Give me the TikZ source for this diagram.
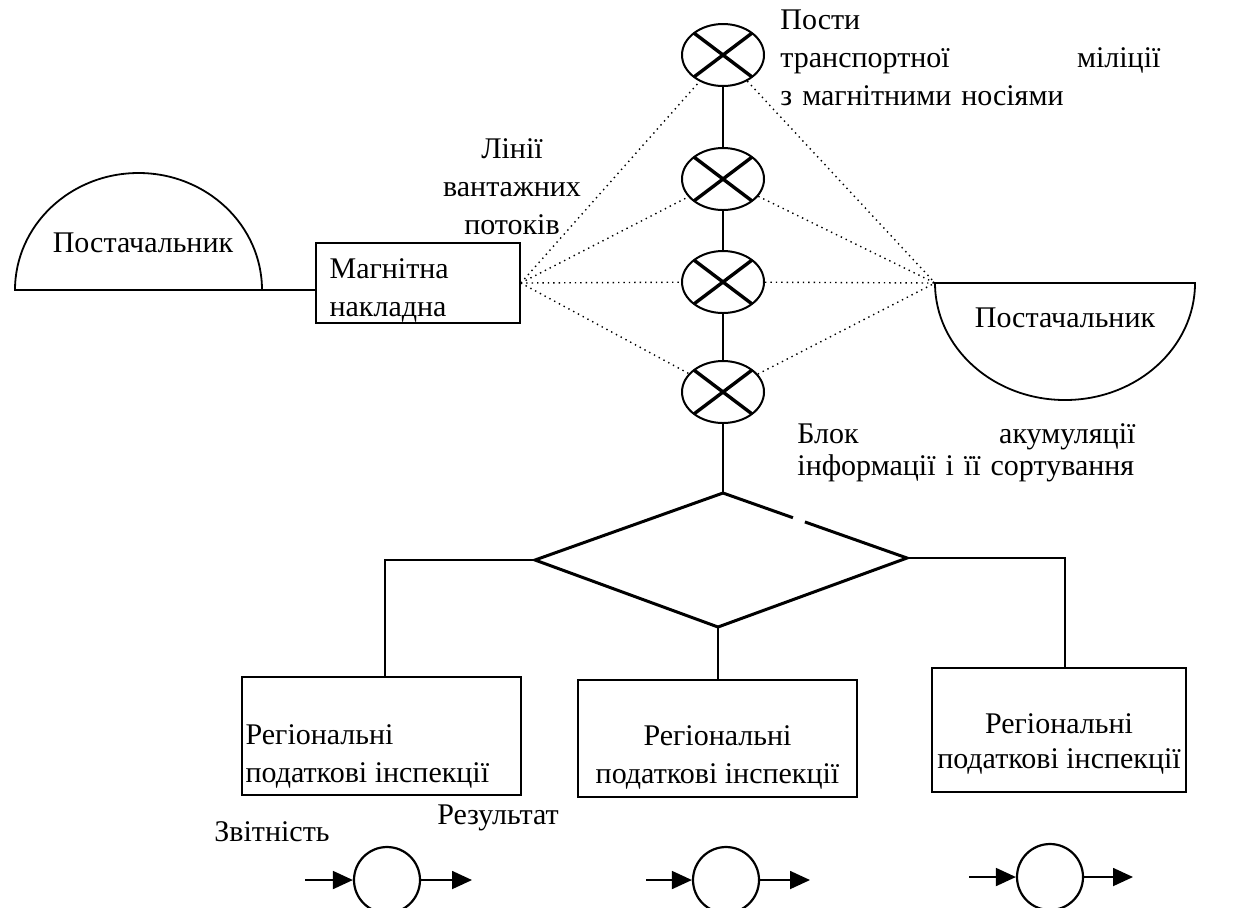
\documentclass[tikz,border=0pt]{standalone}
\usepackage{fontspec}
\setmainfont{Liberation Serif}
\usetikzlibrary{shapes.geometric,arrows.meta,calc}
\begin{document}
\begin{tikzpicture}[x=0.5pt,y=-0.5pt,
  every node/.style={font=\fontsize{15}{19}\selectfont, inner sep=0pt},
  box/.style={draw, line width=0.8pt},
  xell/.style={ellipse, draw, line width=1pt, minimum width=41pt, minimum height=31pt,
    path picture={\draw[line width=1.7pt]
      (path picture bounding box.north west) -- (path picture bounding box.south east)
      (path picture bounding box.north east) -- (path picture bounding box.south west);}},
  dotline/.style={dotted, line width=0.7pt},
  conn/.style={line width=0.9pt},
  smallc/.style={circle, draw, line width=1.1pt, minimum size=33pt},
  arr/.style={line width=0.9pt, -{Triangle[length=10pt,width=9pt]}},
  shapeline/.style={line width=0.9pt}
]
\useasboundingbox (0,0) rectangle (1251,907);
\clip (0,0) rectangle (1251,907);

% left supplier (dome)
\draw[shapeline] (15,290) arc[start angle=180, end angle=360, x radius=123.5, y radius=117] -- cycle;
\coordinate (s1r) at (262,290);
\node (sup1) at (143,243) {Постачальник};

% magnetic waybill
\node[box, minimum width=102pt, minimum height=40pt] (mag) at (418,283) {};
\node[anchor=north west, align=left] (magt) at ($(mag.north west)+(14,16)$) {Магнітна\\накладна};
\draw[conn] (s1r) -- (s1r -| mag.west);

% right supplier (bowl)
\draw[shapeline] (935,283) arc[start angle=180, end angle=0, x radius=130, y radius=117] -- cycle;
\coordinate (s2l) at (935,283);
\node (sup2) at (1065,318) {Постачальник};

% posts
\node[xell] (e1) at (723,55) {};
\node[xell] (e2) at (723,179) {};
\node[xell] (e3) at (723,282) {};
\node[xell] (e4) at (723,392) {};
\draw[conn] (e1) -- (e2);
\draw[conn] (e2) -- (e3);
\draw[conn] (e3) -- (e4);

% dotted flow lines
\foreach \e in {e1,e2,e3,e4} {
  \draw[dotline] (mag.east) -- (\e);
  \draw[dotline] (\e) -- (s2l);
}

% labels top
\node[align=center] (lines) at (512,187) {Лінії\\вантажних\\потоків};
\node[anchor=north west, text width=190pt, align=left] (posts) at (780,9)
  {Пости\\транспортної\hskip 0pt plus 1filll міліції\\з магнітними носіями};

% diamond
\coordinate (dt) at (723,493);
\coordinate (dr) at (907,558);
\coordinate (db) at (718,627);
\coordinate (dl) at (535,560);
\draw[line width=1.5pt] (dt) -- ($(dt)!0.38!(dr)$);
\draw[line width=1.5pt, line join=miter] ($(dt)!0.445!(dr)$) -- (dr) -- (db) -- (dl) -- (dt);
\draw[conn] (e4) -- (dt);
\node[anchor=north west, text width=169pt, align=left,
  font=\fontsize{15}{16}\selectfont] (blk) at (797,423)
  {Блок\hskip 0pt plus 1filll акумуляції\\інформації і її сортування};

% tax inspections
\node[box, minimum width=139.5pt, minimum height=59pt] (b1) at (381.5,736) {};
\node[box, minimum width=139.5pt, minimum height=58.5pt] (b2) at (717.5,738.5) {};
\node[box, minimum width=127pt, minimum height=62pt] (b3) at (1059,730) {};
\node[anchor=north west, align=left] (b1t) at ($(b1.north west)+(4,48)$) {Регіональні\\податкові інспекції};
\node[anchor=north, align=center] (b2t) at ($(b2.north)+(0,46)$) {Регіональні\\податкові інспекції};
\node[anchor=north, align=center, font=\fontsize{15}{17.5}\selectfont] (b3t) at ($(b3.north)+(0,46)$) {Регіональні\\податкові інспекції};

\draw[conn] (dl) -| ($(b1.north)+(3.5,0)$);
\draw[conn] (db) -- (db |- b2.north);
\draw[conn] (dr) -| ($(b3.north)+(6,0)$);

% outputs
\node[smallc] (c1) at (387,880) {};
\node[smallc] (c2) at (726,880) {};
\node[smallc] (c3) at (1050,877) {};
\draw[conn] ($(b1.south)+(3.5,0)$) -- ($(b1.south)+(3.5,0)$ |- c1.north);
\draw[conn] ($(b2.south)+(6.5,0)$) -- ($(b2.south)+(6.5,0)$ |- c2.north);
\draw[conn] ($(b3.south)+(-11,0)$) -- ($(b3.south)+(-11,0)$ |- c3.north);

\coordinate (i1) at (305,880);
\coordinate (o1) at (472,880);
\coordinate (i2) at (646,880);
\coordinate (o2) at (810,880);
\coordinate (i3) at (969,877);
\coordinate (o3) at (1133,877);
\draw[arr] (i1) -- (c1.west);
\draw[arr] (c1.east) -- (o1);
\draw[arr] (i2) -- (c2.west);
\draw[arr] (c2.east) -- (o2);
\draw[arr] (i3) -- (c3.west);
\draw[arr] (c3.east) -- (o3);

\node (rep) at (272,832) {Звітність};
\node (res) at (498,818) {Результат};
\end{tikzpicture}
\end{document}
